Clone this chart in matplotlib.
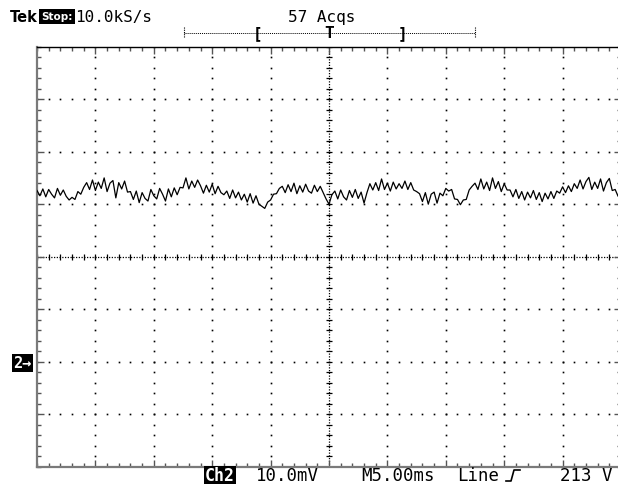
import numpy as np
import matplotlib
matplotlib.use("Agg")
import matplotlib.pyplot as plt
from matplotlib.lines import Line2D

# ---------------- data ----------------
# Ch2 trace in mV (ground marker = 0 mV), sampled every 0.25 ms from -25 ms to +25 ms
ch2_mv = [
    32.6, 31.6, 32.9, 31.4, 32.8, 31.9, 31.2, 33.0, 31.7, 32.7, 31.5,
    30.8, 31.3,
    30.9, 32.4, 31.9, 33.2,
    34.1, 32.8, 34.6, 32.6, 34.2, 33.0, 35.0, 32.4, 34.0, 34.5, 31.2, 34.1, 32.9, 34.4, 32.3,
    32.4, 30.9, 32.5, 30.3, 32.2, 31.1, 30.6,
    32.8, 31.6, 31.0, 33.0, 31.9, 30.6, 32.9, 31.4, 33.1, 31.8, 33.2,
    33.1, 35.0, 32.9, 34.4, 33.2, 34.6,
    33.5, 32.1, 33.6, 32.3, 33.8, 32.0, 33.4, 32.2, 31.8,
    32.5, 31.1, 32.7, 31.2, 32.3, 30.8,
    31.9, 30.4, 32.0, 30.2, 31.6, 30.0, 29.6, 29.2,
    30.4, 30.8, 31.9, 32.0, 33.0,
    33.4, 32.2, 33.7, 32.4, 34.0, 32.0, 33.5, 32.3, 33.8, 32.5, 32.1, 33.6, 32.4, 33.4, 32.2,
    31.0, 30.0, 31.8,
    32.5, 31.0, 32.7, 31.4, 30.8, 32.6, 31.3, 32.8, 31.1, 32.3,
    30.2,
    32.2, 33.9, 32.7, 34.1, 32.6, 34.8, 32.8, 34.0, 32.5, 34.2, 32.9, 33.9,
    33.0, 34.4, 32.8, 34.1, 32.7, 32.4,
    32.0, 30.5, 32.2, 30.0, 31.9, 32.3, 30.2, 32.1, 31.6,
    33.0, 32.5, 32.8,
    31.0, 30.9, 29.9, 30.8, 30.9,
    32.7, 33.4, 34.0, 32.8, 34.8, 32.9, 34.2, 32.6, 35.0, 33.0, 34.3, 32.4, 33.9, 32.7,
    32.7, 31.4, 32.8, 31.1, 32.4, 30.8, 32.3, 31.2, 32.6, 30.9, 32.2, 30.5, 32.1, 31.0, 32.4, 31.1, 32.5,
    32.1, 33.3, 32.2, 33.5, 32.4,
    33.9, 33.0, 34.6, 32.9, 34.3, 35.1, 32.8, 34.2, 33.0, 34.8, 32.5, 34.1, 34.9, 32.6,
    32.8, 31.5, 32.6,
]
sample_step_ms = 0.25
t_start_ms = -25.0

volts_per_div_mv = 10.0
time_per_div_ms = 5.0
ground_div = -2  # ground marker position (divisions from center)

header_left = ["Tek", "Stop:", "10.0kS/s"]
header_acqs = "57 Acqs"
footer_ch = "Ch2"
footer_scale = "10.0mV"
footer_time = "M5.00ms"
footer_trig = "Line"
footer_level = "213 V"
ground_label = "2\u2192"

# ---------------- figure ----------------
W, H = 618, 485
fig = plt.figure(figsize=(W / 100, H / 100), dpi=100)
fig.patch.set_facecolor("white")

def fx(x):
    return x / W

def fy(y):
    return 1 - y / H

left_px, right_px, top_px, bot_px = 37, 621, 47.5, 468
ax = fig.add_axes([fx(left_px), fy(bot_px), (right_px - left_px) / W, (bot_px - top_px) / H])

ymin = (-4 - ground_div) * volts_per_div_mv
ymax = (4 - ground_div) * volts_per_div_mv
ycenter = (0 - ground_div) * volts_per_div_mv
xmin, xmax = -5 * time_per_div_ms, 5 * time_per_div_ms
ax.set_xlim(xmin, xmax)
ax.set_ylim(ymin, ymax)

# graticule: dotted major lines
minor_x = np.arange(xmin, xmax + 1e-9, time_per_div_ms / 5)
minor_y = np.arange(ymin, ymax + 1e-9, volts_per_div_mv / 5)
major_x = np.arange(xmin + time_per_div_ms, xmax - 1e-9, time_per_div_ms)
major_y = np.arange(ymin + volts_per_div_mv, ymax - 1e-9, volts_per_div_mv)

for gx in major_x:
    if abs(gx) < 1e-9:
        continue
    ax.plot(np.full_like(minor_y, gx), minor_y, ls="none", marker="s",
            ms=1.2, mew=0, color="black", zorder=1)
for gy in major_y:
    if abs(gy - ycenter) < 1e-9:
        continue
    ax.plot(minor_x, np.full_like(minor_x, gy), ls="none", marker="s",
            ms=1.2, mew=0, color="black", zorder=1)

# center cross: densely dotted with minor tick marks
ax.axvline(0, color="black", lw=0.9, ls=(0, (1, 1.2)), zorder=1)
ax.axhline(ycenter, color="black", lw=0.9, ls=(0, (1, 1.2)), zorder=1)
ax.plot(np.zeros_like(minor_y), minor_y, ls="none", marker="_", ms=4, mew=0.9,
        color="black", zorder=1)
ax.plot(minor_x, np.full_like(minor_x, ycenter), ls="none", marker="|", ms=4,
        mew=0.9, color="black", zorder=1)

# trace
t = t_start_ms + sample_step_ms * np.arange(len(ch2_mv))
ax.plot(t, ch2_mv, color="black", lw=0.9, zorder=3)

# frame and edge ticks
for s in ["left", "bottom"]:
    ax.spines[s].set_color("#7a7a7a")
    ax.spines[s].set_linewidth(1.6)
ax.spines["top"].set_color("black")
ax.spines["top"].set_linewidth(1.0)
ax.spines["right"].set_color("black")
ax.set_xticks(major_x)
ax.set_yticks(major_y)
ax.set_xticks(minor_x, minor=True)
ax.set_yticks(minor_y, minor=True)
ax.tick_params(which="both", direction="in", top=True, right=True,
               labelbottom=False, labelleft=False, color="#555555", width=1)
ax.tick_params(which="major", length=5)
ax.tick_params(which="minor", length=3)

# ---------------- header text ----------------
MONO = ["DejaVu Sans Mono", "DejaVu Sans"]
fkw = dict(family=MONO, fontsize=11.5, va="center")
fig.text(fx(10), fy(17.5), header_left[0], fontweight="bold", ha="left",
         family="DejaVu Sans", fontsize=10.5, va="center")
fig.text(fx(41.5), fy(17.5), header_left[1], color="white", fontweight="bold", ha="left",
         family="DejaVu Sans", fontsize=7.5, va="center",
         bbox=dict(facecolor="black", edgecolor="none", pad=1.8))
fig.text(fx(75), fy(17.5), header_left[2], ha="left", **fkw)
fig.text(fx(322), fy(17.5), header_acqs, ha="center", **fkw)

# trigger position bar
bar_y = fy(33.5)
fig.add_artist(Line2D([fx(184), fx(475)], [bar_y, bar_y], color="black", lw=0.7,
                      ls=(0, (1, 1))))
for bx in (184, 475):
    fig.add_artist(Line2D([fx(bx), fx(bx)], [fy(28), fy(39)], color="black", lw=0.8,
                          ls=(0, (1, 1))))
fig.text(fx(258), bar_y, "[", ha="center", fontweight="bold", **fkw)
fig.text(fx(402), bar_y, "]", ha="center", fontweight="bold", **fkw)
fig.text(fx(329), bar_y, "T", ha="center", fontweight="bold", **fkw)

# ---------------- footer text ----------------
foot_y = fy(476.5)
fkw2 = dict(family=MONO, fontsize=12.5, va="center")
fig.text(fx(205), foot_y, footer_ch, color="white", fontweight="bold", ha="left",
         bbox=dict(facecolor="black", edgecolor="none", pad=0.6),
         family=MONO, fontsize=12, va="center")
fig.text(fx(256), foot_y, footer_scale, ha="left", **fkw2)
fig.text(fx(361), foot_y, footer_time, ha="left", **fkw2)
fig.text(fx(457), foot_y, footer_trig, ha="left", **fkw2)
# rising-edge trigger symbol
fig.add_artist(Line2D([fx(506), fx(511), fx(514), fx(520)],
                      [fy(482), fy(482), fy(471), fy(471)], color="black", lw=1.2))
fig.text(fx(613), foot_y, footer_level, ha="right", **fkw2)

# ground marker
fig.text(fx(13), fy(364), ground_label, color="white", fontweight="bold", ha="left",
         bbox=dict(facecolor="black", edgecolor="none", pad=1.0),
         family=MONO, fontsize=11, va="center")

fig.savefig("out.png", dpi=100, facecolor="white")
